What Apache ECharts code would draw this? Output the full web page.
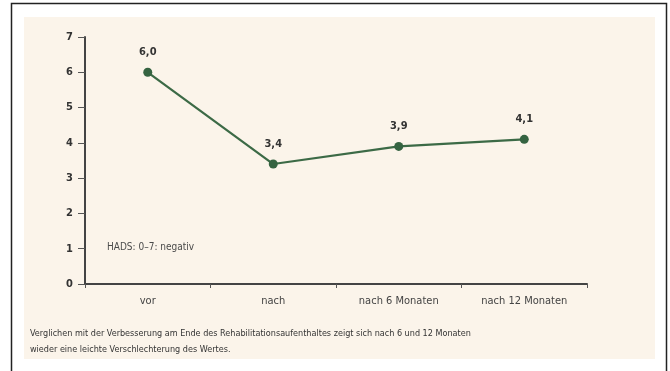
<!DOCTYPE html>
<html>
<head>
<meta charset="utf-8">
<script src="https://cdn.jsdelivr.net/npm/echarts@6/dist/echarts.min.js"></script>
<style>
html, body { margin: 0; padding: 0; background: #fff; }
#chart { width: 670px; height: 371px; }
</style>
</head>
<body>
<div id="chart"></div>
<script>
var categories = ['vor', 'nach', 'nach 6 Monaten', 'nach 12 Monaten'];
var values = [6.0, 3.4, 3.9, 4.1];
var yTicks = [0, 1, 2, 3, 4, 5, 6, 7];
var noteText = 'HADS: 0\u20137: negativ';
var footText = [
	'Verglichen mit der Verbesserung am Ende des Rehabilitationsaufenthaltes zeigt sich nach 6 und 12 Monaten',
	'wieder eine leichte Verschlechterung des Wertes.'
];

var font = '"Liberation Sans Narrow", "DejaVu Sans Condensed", "Liberation Sans", sans-serif';

var myChart = echarts.init(document.getElementById('chart'));
var option = {
	backgroundColor: '#fff',
	animation: false,
	grid: {
		left: 85,
		right: 83,
		top: 37,
		bottom: 87
	},
	graphic: [{
		type: 'rect',
		z: -10,
		silent: true,
		shape: { x: 11.5, y: 3.5, width: 655, height: 420 },
		style: { fill: '#fff', stroke: '#222', lineWidth: 1.5 }
	}, {
		type: 'rect',
		z: -9,
		silent: true,
		shape: { x: 24, y: 17, width: 631, height: 342 },
		style: { fill: '#fbf4ea' }
	}, {
		type: 'text',
		left: 107,
		top: 242,
		style: { text: noteText, font: '10px ' + font, fill: '#4a4a4a' }
	}, {
		type: 'text',
		left: 30,
		top: 326,
		style: { text: footText.join('\n'), font: '9px ' + font, fill: '#333', lineHeight: 16 }
	}],
	xAxis: {
		type: 'category',
		data: categories,
		boundaryGap: true,
		axisLine: { lineStyle: { color: '#444', width: 2 } },
		axisTick: { show: true, length: 4, lineStyle: { color: '#555' } },
		axisLabel: { color: '#444', fontFamily: font, fontSize: 11, margin: 12 }
	},
	yAxis: {
		type: 'value',
		min: 0,
		max: 7,
		interval: 1,
		splitLine: { show: false },
		axisLine: { show: true, lineStyle: { color: '#444', width: 2 } },
		axisTick: { show: true, length: 7, lineStyle: { color: '#555' } },
		axisLabel: {
			color: '#333',
			fontFamily: font,
			fontSize: 11,
			fontWeight: 'bold',
			margin: 12,
			formatter: function(v) {
				return yTicks.indexOf(v) >= 0 ? String(v) : '';
			}
		}
	},
	series: [{
		type: 'line',
		data: values,
		symbol: 'circle',
		symbolSize: 9,
		lineStyle: { color: '#3c6a46', width: 2.2 },
		itemStyle: { color: '#356341' },
		label: {
			show: true,
			position: 'top',
			distance: 10,
			color: '#333',
			fontFamily: font,
			fontSize: 11,
			fontWeight: 'bold',
			formatter: function(p) {
				return p.value.toFixed(1).replace('.', ',');
			}
		}
	}]
};
myChart.setOption(option);
</script>
</body>
</html>
